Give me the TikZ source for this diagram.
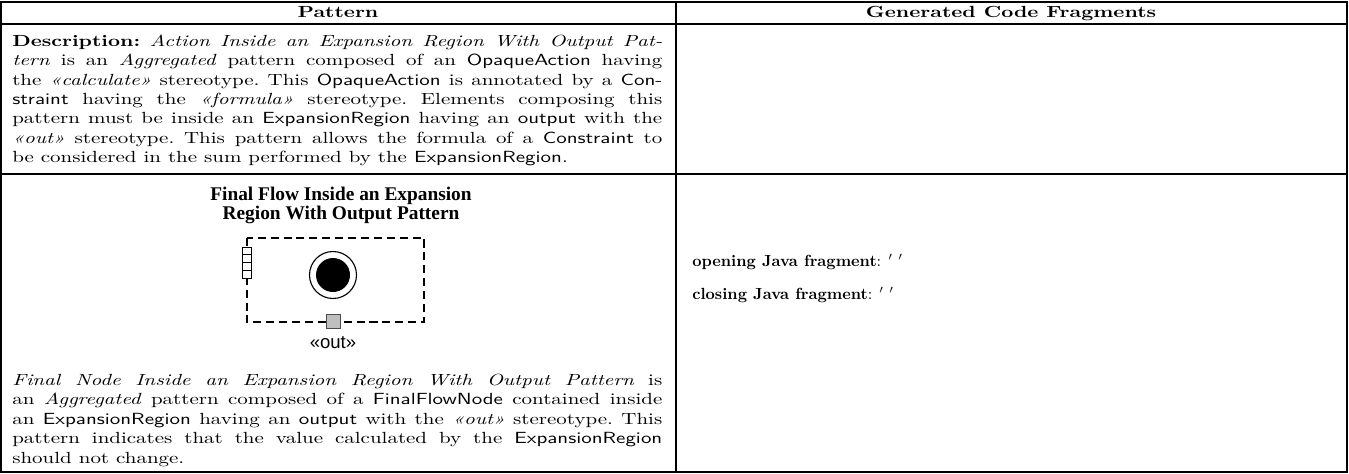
\documentclass[tikz,border=0pt]{standalone}
\usepackage{fontspec}
\usepackage{graphicx}
\newfontfamily\figserif{Liberation Serif}
\newfontfamily\figsans{Liberation Sans}
\newlength\colw
\setlength\colw{310pt}
% one justified line of a table cell
\newcommand\jline[1]{\hbox to \colw{#1}}
\newcommand\lline[1]{\hbox to \colw{#1\hfil}}
\newcommand\cell[1]{\scalebox{1.3}[1]{\parbox[t]{\colw}{\frenchspacing\baselineskip=12pt #1}}}
\begin{document}
\begin{tikzpicture}[x=0.62pt,y=-0.62pt,
  rule/.style={line width=0.7pt},
  frame/.style={line width=0.9pt},
  txt/.style={anchor=base west,inner sep=0pt},
  head/.style={anchor=base,inner sep=0pt,font=\bfseries},
  region/.style={draw,dashed,line width=0.9pt,dash pattern=on 5pt off 3pt},
  pin/.style={draw,line width=0.5pt,inner sep=0pt}]
\useasboundingbox (0,0) rectangle (1349,474);
% table rules
\draw[frame] (1,2) rectangle (1347,472);
\draw[rule] (1,24) -- (1347,24);
\draw[rule] (1,174) -- (1347,174);
\draw[rule] (676,2) -- (676,472);
% header
\node[head] (hpat) at (338,17) {\scalebox{1.3}[1]{Pattern}};
\node[head] (hgen) at (1011,17) {\scalebox{1.3}[1]{Generated Code Fragments}};
% description cell
\node[txt] (desc) at (12,46.5) {\cell{%
\jline{\textbf{Description:} \textit{Action Inside an Expansion Region With Output Pat-}}
\jline{\textit{tern} is an \textit{Aggregated} pattern composed of an \textsf{OpaqueAction} having}
\jline{the \textit{«calculate»} stereotype. This \textsf{OpaqueAction} is annotated by a \textsf{Con-}}
\jline{\textsf{straint} having the \textit{«formula»} stereotype. Elements composing this}
\jline{pattern must be inside an \textsf{ExpansionRegion} having an \textsf{output} with the}
\jline{\textit{«out»} stereotype. This pattern allows the formula of a \textsf{Constraint} to}
\lline{be considered in the sum performed by the \textsf{ExpansionRegion}.}}};
% figure: final node inside an expansion region
\node[anchor=base,inner sep=0pt,align=center,font=\figserif\bfseries\fontsize{12}{11.5}\selectfont]
  (ftitle) at (341,219) {Final Flow Inside an Expansion\\Region With Output Pattern};
\draw[region] (247,238) rectangle (424,322);
\node[pin,minimum width=9*0.62pt,minimum height=31*0.62pt,fill=white,
  path picture={\foreach \k in {1,2,3}
    \draw[line width=0.5pt] ([yshift=-\k*7.75*0.62pt]path picture bounding box.north west)
      -- ([yshift=-\k*7.75*0.62pt]path picture bounding box.north east);}]
  (inpin) at (246.5,262.5) {};
\node[circle,draw,line width=0.7pt,minimum size=47*0.62pt,inner sep=0pt] (final) at (333,275) {};
\node[circle,fill=black,minimum size=34*0.62pt,inner sep=0pt] (finaldot) at (final) {};
\node[pin,draw=black!70,fill=black!25,minimum size=14*0.62pt] (outpin) at (333,321.5) {};
\node[anchor=base,inner sep=0pt,font=\figsans\fontsize{11.5}{13}\selectfont] (outlbl) at (333,348) {«out»};
% text below the figure
\node[txt] (fdesc) at (12,385.6) {\cell{%
\jline{\textit{Final Node Inside an Expansion Region With Output Pattern} is}
\jline{an \textit{Aggregated} pattern composed of a \textsf{FinalFlowNode} contained inside}
\jline{an \textsf{ExpansionRegion} having an \textsf{output} with the \textit{«out»} stereotype. This}
\jline{pattern indicates that the value calculated by the \textsf{ExpansionRegion}}
\lline{should not change.}}};
% generated code fragments
\node[txt] (open) at (692,266) {\textbf{opening Java fragment}: $'$ $'$};
\node[txt] (close) at (692,299) {\textbf{closing Java fragment}: $'$ $'$};
\end{tikzpicture}
\end{document}
